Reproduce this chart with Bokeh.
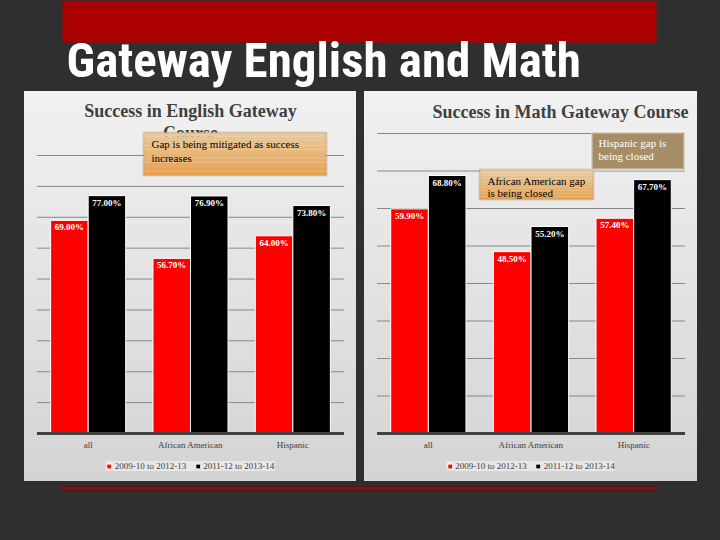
from bokeh.plotting import figure
from bokeh.models import (FactorRange, Range1d, Label, BoxAnnotation,
                          Legend, LegendItem, ColumnDataSource, GlobalInlineStyleSheet)
from bokeh.transform import dodge
from bokeh.layouts import column, row
from bokeh.core.properties import value
from bokeh.embed import file_html
from bokeh.resources import INLINE

# ---------------- data ----------------
categories = ["all", "African American", "Hispanic"]
series_names = ["2009-10 to 2012-13", "2011-12 to 2013-14"]
english_early = [69.00, 56.70, 64.00]
english_late = [77.00, 76.90, 73.80]
math_early = [59.90, 48.50, 57.40]
math_late = [68.80, 55.20, 67.70]
english_grid = [10, 20, 30, 40, 50, 60, 70, 80, 90]
math_grid = [10, 20, 30, 40, 50, 60, 70, 80]

main_title = "Gateway English and Math"
english_title = ["Success in English Gateway", "Course"]
math_title = "Success in Math Gateway Course"
english_note = ["Gap is being mitigated as success", "increases"]
math_note_aa = ["African American gap", "is being closed"]
math_note_hisp = ["Hispanic gap is", "being closed"]

# ---------------- style ----------------
BG = "#2f2f2f"
RED = "#ff0000"
BLACK = "#000000"
TXT = "#404040"
SERIF = "Liberation Serif"
PANEL_TOP, PANEL_BOTTOM, AXIS_Y = 91, 481, 433
PAD = 0.122


def base_shift(size):
    # empirical correction for alphabetic baseline placement
    return 1.4 + 0.31 * size


def make_chart(early, late, grid_ticks, px_per_pct, panel_left, width, margin):
    n = len(categories)
    p = figure(width=width, height=PANEL_BOTTOM - PANEL_TOP,
               x_range=FactorRange(factors=categories, range_padding=PAD,
                                   range_padding_units="absolute"),
               y_range=Range1d(-(PANEL_BOTTOM - AXIS_Y) / px_per_pct,
                               (AXIS_Y - PANEL_TOP) / px_per_pct),
               toolbar_location=None, output_backend="svg",
               x_axis_location=None, y_axis_location=None, min_border=0,
               border_fill_alpha=0, background_fill_alpha=0, outline_line_color=None)
    p.margin = margin
    p.styles = {"background": "linear-gradient(180deg, #f1f1f1 0%, #d4d4d4 100%)"}
    p.grid.visible = False

    # horizontal grid lines across the category span
    p.segment(x0=[0] * len(grid_ticks), x1=[n] * len(grid_ticks), y0=grid_ticks, y1=grid_ticks,
              line_color="#878787", line_width=1, level="underlay")

    src = ColumnDataSource(dict(
        cat=categories, early=early, late=late,
        early_lbl=[f"{v:.2f}%" for v in early],
        late_lbl=[f"{v:.2f}%" for v in late],
    ))
    off = 0.1833
    bw = 0.3666
    r1 = p.vbar(x=dodge("cat", -off, range=p.x_range), top="early", width=bw, source=src,
                fill_color=RED, line_color="white", line_width=1)
    r2 = p.vbar(x=dodge("cat", off, range=p.x_range), top="late", width=bw, source=src,
                fill_color=BLACK, line_color="white", line_width=1)
    for col, d in (("early", -off), ("late", off)):
        p.text(x=dodge("cat", d, range=p.x_range), y=col, text=col + "_lbl", source=src,
               text_color="white", text_font=value(SERIF), text_font_style="bold",
               text_font_size="9px", text_align="center", text_baseline="top", y_offset=2)

    # category axis line and labels
    p.segment(x0=[0], x1=[n], y0=[0], y1=[0], line_color=TXT, line_width=3)
    lab_y = -(439 - AXIS_Y) / px_per_pct
    p.text(x=categories, y=[lab_y] * n, text=categories, text_color=TXT,
           text_font=value(SERIF), text_font_size="9px", text_align="center",
           text_baseline="top")

    leg = Legend(items=[LegendItem(label=series_names[0], renderers=[r1]),
                        LegendItem(label=series_names[1], renderers=[r2])],
                 orientation="horizontal", location="bottom_center",
                 background_fill_color="#e7e7e7", background_fill_alpha=1,
                 border_line_color=None, label_text_font=SERIF,
                 label_text_font_size="9px", label_text_color=TXT,
                 glyph_width=6, glyph_height=6, label_standoff=3, spacing=8,
                 padding=3, margin=10, label_height=9)
    p.add_layout(leg, "center")

    unit = width / (n + 2 * PAD)

    def X(img_x):
        return (img_x - panel_left) / unit - PAD

    def Y(img_y):
        return (AXIS_Y - img_y) / px_per_pct

    return p, X, Y


def title_label(p, X, Y, x, base, text):
    p.add_layout(Label(x=X(x), y=Y(base - base_shift(18)), text=text, text_font=SERIF,
                       text_font_size="18px", text_font_style="bold", text_color=TXT,
                       text_align="center", text_baseline="alphabetic"))


def note_label(p, X, Y, x, base, text, color="black"):
    p.add_layout(Label(x=X(x), y=Y(base - base_shift(11)), text=text, text_font=SERIF,
                       text_font_size="11px", text_color=color, text_align="left",
                       text_baseline="alphabetic"))


def gradient_box(p, X, Y, l, r, t, b, top_rgb, bot_rgb, border, bands=10):
    h = (b - t) / bands
    for i in range(bands):
        f = i / (bands - 1)
        c = tuple(int(top_rgb[k] + (bot_rgb[k] - top_rgb[k]) * f) for k in range(3))
        p.add_layout(BoxAnnotation(left=X(l), right=X(r), top=Y(t + i * h), bottom=Y(t + (i + 1) * h),
                                   fill_color="#%02x%02x%02x" % c, fill_alpha=1, line_color=None))
    p.add_layout(BoxAnnotation(left=X(l), right=X(r), top=Y(t), bottom=Y(b),
                               fill_alpha=0, line_color=border, line_width=2))


# ---------------- header ----------------
head = figure(width=720, height=PANEL_TOP, x_range=Range1d(0, 720), y_range=Range1d(PANEL_TOP, 0),
              toolbar_location=None, output_backend="svg", min_border=0,
              x_axis_location=None, y_axis_location=None,
              background_fill_color=BG, border_fill_color=BG, outline_line_color=None)
head.grid.visible = False
head.quad(left=[62], right=[656], top=[0], bottom=[42], fill_color="#ab0000", line_color=None)
head.text(x=[66], y=[77 - base_shift(49)], text=[main_title], text_color="white",
          text_font=value("Roboto Condensed"), text_font_style="bold",
          text_font_size="49px", text_baseline="alphabetic")

# ---------------- English chart ----------------
p1, X1, Y1 = make_chart(english_early, english_late, english_grid, 278 / 90, 24, 332, (0, 4, 0, 24))
title_label(p1, X1, Y1, 190, 117, english_title[0])
title_label(p1, X1, Y1, 190, 139, english_title[1])
gradient_box(p1, X1, Y1, 143, 326, 132, 175, (232, 202, 158), (233, 163, 82), "#a58a5c")
note_label(p1, X1, Y1, 151, 148, english_note[0])
note_label(p1, X1, Y1, 151, 162, english_note[1])

# ---------------- Math chart ----------------
p2, X2, Y2 = make_chart(math_early, math_late, math_grid, 300 / 80, 364, 333, (0, 23, 0, 4))
title_label(p2, X2, Y2, 560, 118, math_title)
gradient_box(p2, X2, Y2, 479, 593, 169, 199, (232, 202, 158), (233, 163, 82), "#a58a5c")
note_label(p2, X2, Y2, 487, 185, math_note_aa[0])
note_label(p2, X2, Y2, 487, 197, math_note_aa[1])
p2.add_layout(BoxAnnotation(left=X2(591), right=X2(684), top=Y2(132), bottom=Y2(169),
                            fill_color="#a68d66", fill_alpha=1, line_color="white", line_width=3))
note_label(p2, X2, Y2, 598, 147, math_note_hisp[0], color="white")
note_label(p2, X2, Y2, 598, 160, math_note_hisp[1], color="white")

# ---------------- footer ----------------
foot = figure(width=720, height=540 - PANEL_BOTTOM, x_range=Range1d(0, 720),
              y_range=Range1d(540, PANEL_BOTTOM),
              toolbar_location=None, output_backend="svg", min_border=0,
              x_axis_location=None, y_axis_location=None,
              background_fill_color=BG, border_fill_color=BG, outline_line_color=None)
foot.grid.visible = False
foot.line(x=[60, 656], y=[488, 488], line_color="#5a1515", line_width=6, line_alpha=0.7)
foot.line(x=[60, 656], y=[488, 488], line_color="#8e0c0c", line_width=3)

root = column(head, row(p1, p2), foot, styles={"background-color": BG},
              stylesheets=[GlobalInlineStyleSheet(css=f"body {{ background-color: {BG}; }}")])

open("out.html", "w").write(file_html(root, INLINE))
